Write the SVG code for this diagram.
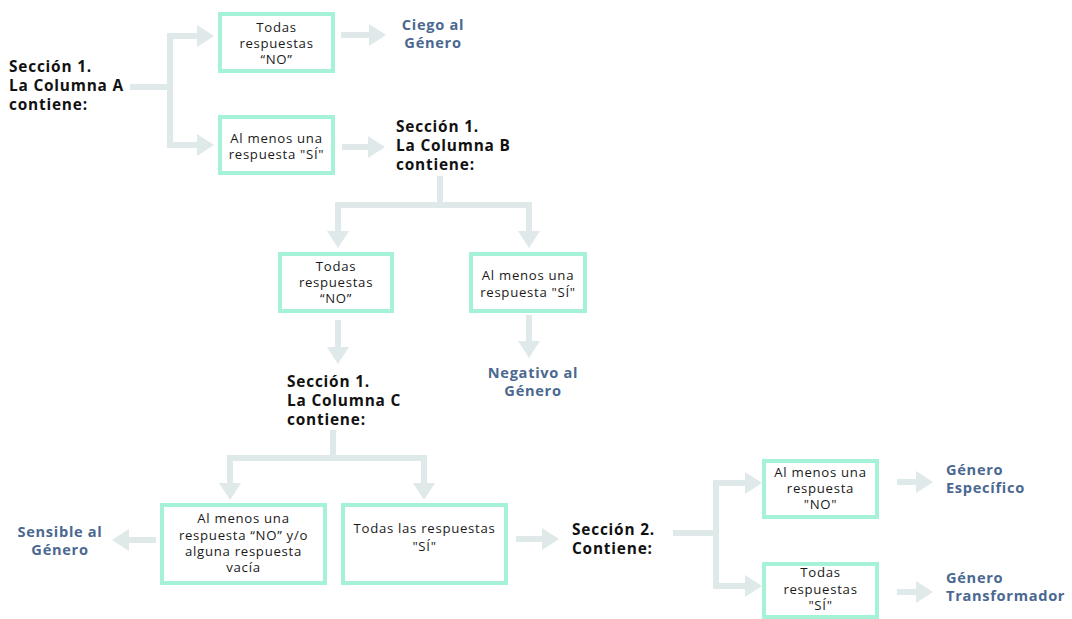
<svg xmlns="http://www.w3.org/2000/svg" width="1072" height="619" viewBox="0 0 1072 619">
<style>
.box{fill:#ffffff;stroke:#a6f2d7;stroke-width:4}
.bt{font-family:"Open Sans","Liberation Sans",sans-serif;font-size:13.2px;letter-spacing:0.7px;fill:#1a1a1a;text-anchor:middle}
.hd{font-family:"Open Sans","Liberation Sans",sans-serif;font-size:15.4px;letter-spacing:0.8px;font-weight:700;fill:#111111}
.res{font-family:"Open Sans","Liberation Sans",sans-serif;font-size:14.6px;letter-spacing:0.7px;font-weight:700;fill:#4a6890}
.c{fill:none;stroke:#dfe9ea;stroke-width:6;stroke-linejoin:miter}
</style>
<defs>
<marker id="ah" viewBox="0 0 17 22" refX="0" refY="11" markerWidth="17" markerHeight="22" markerUnits="userSpaceOnUse" orient="auto">
<path d="M0,0 L17,11 L0,22 Z" fill="#dfe9ea"/>
</marker>
</defs>
<g id="connectors">
<path class="c" d="M130,87 H170"/>
<path class="c" d="M170,87 V36 H197" marker-end="url(#ah)"/>
<path class="c" d="M170,87 V145 H197" marker-end="url(#ah)"/>
<path class="c" d="M341,35 H369" marker-end="url(#ah)"/>
<path class="c" d="M342,147 H368" marker-end="url(#ah)"/>
<path class="c" d="M440,176 V205"/>
<path class="c" d="M440,205 H338 V231" marker-end="url(#ah)"/>
<path class="c" d="M440,205 H529 V231" marker-end="url(#ah)"/>
<path class="c" d="M338,320 V347" marker-end="url(#ah)"/>
<path class="c" d="M529,315 V341" marker-end="url(#ah)"/>
<path class="c" d="M333,430 V458"/>
<path class="c" d="M333,458 H230 V483" marker-end="url(#ah)"/>
<path class="c" d="M333,458 H424 V483" marker-end="url(#ah)"/>
<path class="c" d="M156,540 H129" marker-end="url(#ah)"/>
<path class="c" d="M516,539 H542" marker-end="url(#ah)"/>
<path class="c" d="M673,533 H716"/>
<path class="c" d="M716,533 V483 H745" marker-end="url(#ah)"/>
<path class="c" d="M716,533 V586 H745" marker-end="url(#ah)"/>
<path class="c" d="M897,482 H916" marker-end="url(#ah)"/>
<path class="c" d="M897,592 H916" marker-end="url(#ah)"/>
</g>
<g id="secA">
<text class="hd" x="9" y="72">Sección 1.</text>
<text class="hd" x="9" y="91">La Columna A</text>
<text class="hd" x="9" y="110">contiene:</text>
</g>
<g id="boxA1">
<rect class="box" x="220" y="14" width="113" height="57"/>
<text class="bt" x="276.5" y="32">Todas</text>
<text class="bt" x="276.5" y="48">respuestas</text>
<text class="bt" x="276.5" y="64">“NO”</text>
</g>
<g id="boxA2">
<rect class="box" x="220" y="117" width="113" height="56"/>
<text class="bt" x="276.5" y="143">Al menos una</text>
<text class="bt" x="276.5" y="159">respuesta "SÍ"</text>
</g>
<g id="ciego">
<text class="res" x="433" y="30" text-anchor="middle">Ciego al</text>
<text class="res" x="433" y="48" text-anchor="middle">Género</text>
</g>
<g id="secB">
<text class="hd" x="396" y="132">Sección 1.</text>
<text class="hd" x="396" y="151">La Columna B</text>
<text class="hd" x="396" y="170">contiene:</text>
</g>
<g id="boxB1">
<rect class="box" x="280" y="254" width="112" height="57"/>
<text class="bt" x="336" y="271">Todas</text>
<text class="bt" x="336" y="287">respuestas</text>
<text class="bt" x="336" y="303">“NO”</text>
</g>
<g id="boxB2">
<rect class="box" x="471" y="254" width="114" height="57"/>
<text class="bt" x="528" y="280">Al menos una</text>
<text class="bt" x="528" y="297">respuesta "SÍ"</text>
</g>
<g id="negativo">
<text class="res" x="533" y="378" text-anchor="middle">Negativo al</text>
<text class="res" x="533" y="396" text-anchor="middle">Género</text>
</g>
<g id="secC">
<text class="hd" x="287" y="387">Sección 1.</text>
<text class="hd" x="287" y="406">La Columna C</text>
<text class="hd" x="287" y="425">contiene:</text>
</g>
<g id="boxC1">
<rect class="box" x="162" y="505" width="163" height="78"/>
<text class="bt" x="243.5" y="523">Al menos una</text>
<text class="bt" x="243.5" y="540">respuesta “NO” y/o</text>
<text class="bt" x="243.5" y="556">alguna respuesta</text>
<text class="bt" x="243.5" y="572">vacía</text>
</g>
<g id="boxC2">
<rect class="box" x="343" y="505" width="163" height="78"/>
<text class="bt" x="424.5" y="533">Todas las respuestas</text>
<text class="bt" x="424.5" y="551">"SÍ"</text>
</g>
<g id="sensible">
<text class="res" x="60" y="537" text-anchor="middle">Sensible al</text>
<text class="res" x="60" y="555" text-anchor="middle">Género</text>
</g>
<g id="sec2">
<text class="hd" x="572" y="535">Sección 2.</text>
<text class="hd" x="572" y="554">Contiene:</text>
</g>
<g id="box21">
<rect class="box" x="764" y="461" width="113" height="56"/>
<text class="bt" x="820.5" y="477">Al menos una</text>
<text class="bt" x="820.5" y="493">respuesta</text>
<text class="bt" x="820.5" y="509">"NO"</text>
</g>
<g id="box22">
<rect class="box" x="764" y="564" width="113" height="53"/>
<text class="bt" x="820.5" y="577">Todas</text>
<text class="bt" x="820.5" y="594">respuestas</text>
<text class="bt" x="820.5" y="610">"SÍ"</text>
</g>
<g id="especifico">
<text class="res" x="946" y="475">Género</text>
<text class="res" x="946" y="493">Específico</text>
</g>
<g id="transformador">
<text class="res" x="946" y="583">Género</text>
<text class="res" x="946" y="601">Transformador</text>
</g>
</svg>
